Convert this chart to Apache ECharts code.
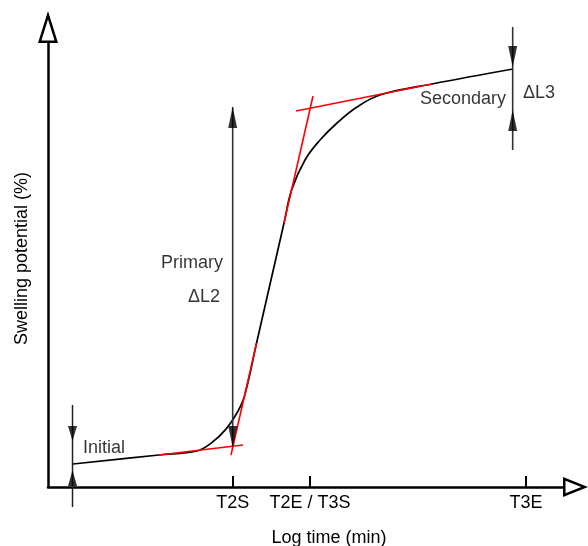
<!DOCTYPE html>
<html>
<head>
<meta charset="utf-8">
<script src="https://cdn.jsdelivr.net/npm/echarts@6/dist/echarts.min.js"></script>
<style>
  html, body { margin: 0; padding: 0; background: #fff; }
  #main { width: 588px; height: 546px; }
</style>
</head>
<body>
<div id="main"></div>
<script>
// schematic units: log time 0..100, swelling 0..100
const tickPos = [35.86, 50.87, 92.82];
const tickNames = ['T2S', 'T2E / T3S', 'T3E'];

// swelling curve
const curve = [
  [4.85, 5.18], [21.55, 7.21], [28.93, 8.11], [31.8, 10.0],
  [34.6, 13.1], [36.8, 16.9], [38.16, 20.50],
  [40.50, 32.43], [45.83, 59.46], [47.30, 66.89], [49.90, 73.65],
  [52.82, 78.15], [56.12, 81.98], [60.00, 85.59], [64.47, 88.29], [74.56, 90.77],
  [90.29, 94.14]
];

// red tangents
const tangentInitial = [[21.55, 7.21], [37.86, 9.46]];
const tangentSteepLow = [[35.53, 7.21], [40.50, 32.43]];
const tangentSteepHigh = [[45.83, 59.46], [51.46, 88.06]];
const tangentSecondary = [[48.16, 84.68], [74.56, 90.77]];

// dimension lines
const dimInitial = [[4.76, 18.47], [4.76, -4.50]];
const dimPrimary = [[35.86, 85.59], [35.86, 9.01]];
const dimL3 = [[90.23, 103.60], [90.23, 75.90]];

// arrow tips
const tipsUpSmall = [[4.76, 3.83]];
const tipsDownSmall = [[4.76, 10.36]];
const tipsUp = [[35.86, 85.59], [90.23, 84.91]];
const tipsDown = [[35.86, 9.01], [90.23, 94.59]];

// notes
const notesLeft = [[6.80, 8.78, 'Initial'], [92.23, 88.74, 'ΔL3']];
const notesRight = [[33.98, 50.45, 'Primary'], [33.40, 42.79, 'ΔL2'], [88.93, 87.39, 'Secondary']];

const FONT = "'Liberation Sans', Arial, sans-serif";
const TXT = '#000';

// hollow triangles (outer + reversed inner = hole)
const arrowY = 'path://M10,0 L20,32 L0,32 Z M10,8.4 L3.4,29.5 L16.6,29.5 Z';
const arrowX = 'path://M10,0 L20,25 L0,25 Z M10,6.7 L3.7,22.5 L16.3,22.5 Z';

function lineSeries(data, color, width, z, smooth) {
    return {
        type: 'line',
        data: data,
        symbol: 'none',
        smooth: smooth || false,
        clip: false,
        z: z,
        lineStyle: { color: color, width: width },
        silent: true
    }
}

function headSeries(data, size, down) {
    return {
        type: 'scatter',
        data: data,
        symbol: 'triangle',
        symbolSize: size,
        symbolRotate: down ? 180 : 0,
        symbolOffset: [0, down ? -size[1] / 2 : size[1] / 2],
        clip: false,
        z: 5,
        itemStyle: { color: '#000' },
        silent: true
    }
}

function noteSeries(data, pos) {
    return {
        type: 'scatter',
        data: data,
        symbolSize: 0,
        z: 6,
        itemStyle: { color: 'transparent' },
        label: {
            show: true,
            position: pos,
            distance: 0,
            color: TXT,
            fontSize: 18,
            fontFamily: FONT,
            formatter: p => p.data[2]
        },
        silent: true
    }
}

const chart = echarts.init(document.getElementById('main'), null, { renderer: 'canvas' });

chart.setOption({
    animation: false,
    backgroundColor: '#fff',
    grid: { left: 48, right: 25, top: 43, bottom: 59, outerBoundsMode: 'none' },
    xAxis: {
        type: 'value',
        min: 0,
        max: 100,
        name: 'Log time (min)',
        nameLocation: 'middle',
        nameGap: 42,
        nameTextStyle: { color: TXT, fontSize: 18, fontFamily: FONT, padding: [0, 0, 0, 47] },
        axisLine: {
            show: true,
            onZero: false,
            symbol: ['none', arrowX],
            symbolSize: [20, 25],
            symbolOffset: [0, 12.5],
            lineStyle: { color: '#000', width: 2.5 }
        },
        axisTick: {
            show: true,
            inside: true,
            length: 11,
            customValues: tickPos,
            lineStyle: { color: '#000', width: 2 }
        },
        axisLabel: {
            show: true,
            customValues: tickPos,
            margin: 7,
            color: TXT,
            fontSize: 18,
            fontFamily: FONT,
            formatter: v => {
                let best = 0;
                tickPos.forEach((t, i) => {
                    if (Math.abs(t - v) < Math.abs(tickPos[best] - v)) best = i;
                });
                return tickNames[best];
            }
        },
        splitLine: { show: false }
    },
    yAxis: {
        type: 'value',
        min: 0,
        max: 100,
        name: 'Swelling potential (%)',
        nameLocation: 'middle',
        nameGap: 17,
        nameTextStyle: { color: TXT, fontSize: 18, fontFamily: FONT, padding: [0, 0, 0, 13] },
        axisLine: {
            show: true,
            onZero: false,
            symbol: ['none', arrowY],
            symbolSize: [20, 32],
            symbolOffset: [0, 16],
            lineStyle: { color: '#000', width: 2.5 }
        },
        axisTick: { show: false },
        axisLabel: { show: false },
        splitLine: { show: false }
    },
    series: [
        lineSeries(curve, '#000', 1.7, 2, 0.4),
        lineSeries(tangentInitial, '#f00', 1.6, 3),
        lineSeries(tangentSteepLow, '#f00', 1.6, 3),
        lineSeries(tangentSteepHigh, '#f00', 1.6, 3),
        lineSeries(tangentSecondary, '#f00', 1.6, 3),
        lineSeries(dimInitial, '#222', 1.5, 4),
        lineSeries(dimPrimary, '#333', 1.6, 4),
        lineSeries(dimL3, '#333', 1.6, 4),
        headSeries(tipsUpSmall, [9, 16], false),
        headSeries(tipsDownSmall, [9, 15], true),
        headSeries(tipsUp, [9, 21], false),
        headSeries(tipsDown, [9, 21], true),
        noteSeries(notesLeft, 'right'),
        noteSeries(notesRight, 'left')
    ]
});
</script>
</body>
</html>
